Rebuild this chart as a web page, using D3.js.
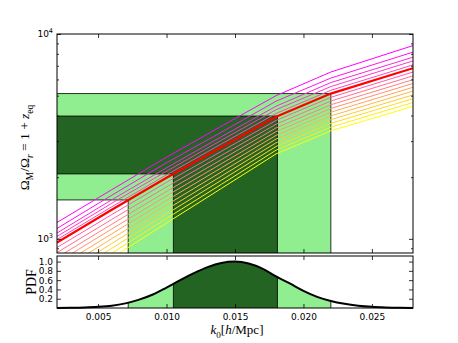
<!DOCTYPE html>
<html>
<head>
<meta charset="utf-8">
<script src="https://cdn.jsdelivr.net/npm/d3@7"></script>
<style>
  body { margin: 0; background: #fff; }
  svg { display: block; }
  .tick text { font-family: "DejaVu Sans", sans-serif; font-size: 9px; fill: #000; }
  .tick line { stroke: #000; stroke-width: 0.8; }
</style>
</head>
<body>
<svg id="chart" width="458" height="343"></svg>
<script>
// k0 grid for the z_eq curves
const kGrid = [0.002, 0.006, 0.010, 0.014, 0.018, 0.022, 0.028];
// fiducial curve (red)
const redLine = [959, 1387, 1986, 2799, 3945, 5117, 6808];
// family of curves, top (magenta) to bottom (yellow)
const familyLines = [
    [1202, 1738, 2503, 3547, 4999, 6522, 8777],
    [1124, 1633, 2352, 3315, 4699, 6095, 8154],
    [1068, 1552, 2223, 3151, 4442, 5794, 7706],
    [1027, 1492, 2138, 3029, 4269, 5538, 7391],
    [992, 1434, 2054, 2906, 4095, 5312, 7066],
    [907, 1314, 1887, 2673, 3784, 4909, 6522],
    [857, 1244, 1794, 2552, 3628, 4707, 6247],
    [810, 1179, 1705, 2436, 3480, 4514, 5985],
    [766, 1117, 1621, 2326, 3338, 4330, 5735],
    [724, 1058, 1541, 2221, 3201, 4152, 5494],
    [684, 1002, 1464, 2120, 3071, 3983, 5263],
    [646, 949, 1392, 2024, 2944, 3819, 5042],
    [611, 899, 1323, 1933, 2824, 3663, 4831],
    [577, 851, 1258, 1845, 2709, 3514, 4628],
    [546, 807, 1195, 1762, 2598, 3370, 4433]
];
// confidence limits: [lo95, lo68, hi68, hi95]
const kLimits = [0.0072, 0.0105, 0.0181, 0.0220];
const zLimits = [1549, 2075, 3977, 5119];
// PDF of k0
const kPdf = [0.002, 0.003, 0.004, 0.005, 0.006, 0.007, 0.008, 0.009, 0.010, 0.011, 0.012, 0.013, 0.014,
              0.015, 0.016, 0.017, 0.018, 0.019, 0.020, 0.021, 0.022, 0.023, 0.024, 0.025, 0.026, 0.027, 0.028];
const pdfVals = [0.002, 0.005, 0.012, 0.025, 0.05, 0.10, 0.18, 0.29, 0.44, 0.60, 0.75, 0.88, 0.97,
                 1.00, 0.96, 0.85, 0.68, 0.53, 0.37, 0.24, 0.15, 0.09, 0.05, 0.025, 0.012, 0.005, 0.002];
const xTicks = [0.005, 0.010, 0.015, 0.020, 0.025];
const pdfTicks = [0.2, 0.4, 0.6, 0.8, 1.0];

const LIGHT = "#90ee90", DARK = "#236423";
const mathFont = "'Liberation Serif', 'DejaVu Serif', serif";

const svg = d3.select("#chart");
const L = 57, R = 413, T1 = 34, B1 = 253, T2 = 256, B2 = 308;

const x = d3.scaleLinear().domain([0.002, 0.028]).range([L, R]);
const y = d3.scaleLog().domain([853, 10000]).range([B1, T1]);
const yP = d3.scaleLinear().domain([0, 1.12]).range([B2, T2]);

const defs = svg.append("defs");
defs.append("clipPath").attr("id", "clipTop")
    .append("rect").attr("x", L).attr("y", T1).attr("width", R - L).attr("height", B1 - T1);

// ---- top panel ----
const topG = svg.append("g");
const plot = topG.append("g").attr("clip-path", "url(#clipTop)");

function bandPath(kLo, kHi, zLo, zHi) {
    const pts = [
        [L, y(zHi)], [x(kHi), y(zHi)], [x(kHi), B1 + 2],
        [x(kLo), B1 + 2], [x(kLo), y(zLo)], [L - 2, y(zLo)], [L - 2, y(zHi)]
    ];
    return d3.line()(pts) + "Z";
}

plot.append("path")
    .attr("d", bandPath(kLimits[0], kLimits[3], zLimits[0], zLimits[3]))
    .attr("fill", LIGHT).attr("stroke", "#000").attr("stroke-width", 0.8);
plot.append("path")
    .attr("d", bandPath(kLimits[1], kLimits[2], zLimits[1], zLimits[2]))
    .attr("fill", DARK).attr("stroke", "#000").attr("stroke-width", 0.8);

const line = d3.line().x((d, i) => x(kGrid[i])).y(d => y(d));
const nFam = familyLines.length;
familyLines.forEach((vals, i) => {
    const t = i / (nFam - 1);
    plot.append("path")
        .attr("d", line(vals))
        .attr("fill", "none")
        .attr("stroke", d3.rgb(255, 255 * t, 255 * (1 - t)))
        .attr("stroke-width", 1);
});
plot.append("path")
    .attr("d", line(redLine))
    .attr("fill", "none").attr("stroke", "#ff0000").attr("stroke-width", 2.2);

// top panel axes (ticks inward, all sides)
function sup(sel) {
    sel.selectAll(".tick text").each(function(d) {
        const t = d3.select(this);
        t.text("10");
        t.append("tspan").attr("dy", -4).attr("font-size", 6.5).text(Math.round(Math.log10(d)));
    });
}
const majorY = [1000, 10000];
const minorY = [900, 2000, 3000, 4000, 5000, 6000, 7000, 8000, 9000];

topG.append("g").attr("transform", `translate(${L},0)`)
    .call(d3.axisLeft(y).tickValues(majorY).tickSize(-4).tickPadding(4))
    .call(sup);
topG.append("g").attr("transform", `translate(${L},0)`)
    .call(d3.axisLeft(y).tickValues(minorY).tickSize(-2).tickFormat(""));
topG.append("g").attr("transform", `translate(${R},0)`)
    .call(d3.axisRight(y).tickValues(majorY).tickSize(-4).tickFormat(""));
topG.append("g").attr("transform", `translate(${R},0)`)
    .call(d3.axisRight(y).tickValues(minorY).tickSize(-2).tickFormat(""));
topG.append("g").attr("transform", `translate(0,${B1})`)
    .call(d3.axisBottom(x).tickValues(xTicks).tickSize(-4).tickFormat(""));
topG.append("g").attr("transform", `translate(0,${T1})`)
    .call(d3.axisTop(x).tickValues(xTicks).tickSize(-4).tickFormat(""));
topG.selectAll(".domain").remove();
topG.append("rect").attr("x", L).attr("y", T1).attr("width", R - L).attr("height", B1 - T1)
    .attr("fill", "none").attr("stroke", "#000").attr("stroke-width", 1);

// ---- lower panel ----
const low = svg.append("g");
[[kLimits[0], kLimits[3], "clipLight"], [kLimits[1], kLimits[2], "clipDark"]].forEach(([a, b, id]) => {
    defs.append("clipPath").attr("id", id)
        .append("rect").attr("x", x(a)).attr("y", T2).attr("width", x(b) - x(a)).attr("height", B2 - T2);
});
const area = d3.area().x((d, i) => x(kPdf[i])).y0(yP(0)).y1(d => yP(d)).curve(d3.curveMonotoneX);
low.append("path").attr("d", area(pdfVals)).attr("fill", LIGHT).attr("clip-path", "url(#clipLight)");
low.append("path").attr("d", area(pdfVals)).attr("fill", DARK).attr("clip-path", "url(#clipDark)");

const pdfAt = d3.scaleLinear().domain(kPdf).range(pdfVals);
kLimits.forEach(k => {
    low.append("line")
        .attr("x1", x(k)).attr("x2", x(k))
        .attr("y1", yP(0)).attr("y2", yP(pdfAt(k)))
        .attr("stroke", "#000").attr("stroke-width", 0.8);
});
low.append("path")
    .attr("d", d3.line().x((d, i) => x(kPdf[i])).y(d => yP(d)).curve(d3.curveMonotoneX)(pdfVals))
    .attr("fill", "none").attr("stroke", "#000").attr("stroke-width", 2);

low.append("g").attr("transform", `translate(0,${B2})`)
    .call(d3.axisBottom(x).tickValues(xTicks).tickSize(-4).tickPadding(6).tickFormat(d3.format(".3f")));
low.append("g").attr("transform", `translate(0,${T2})`)
    .call(d3.axisTop(x).tickValues(xTicks).tickSize(-4).tickFormat(""));
low.append("g").attr("transform", `translate(${L},0)`)
    .call(d3.axisLeft(yP).tickValues(pdfTicks).tickSize(-4).tickPadding(4).tickFormat(d3.format(".1f")));
low.append("g").attr("transform", `translate(${R},0)`)
    .call(d3.axisRight(yP).tickValues(pdfTicks).tickSize(-4).tickFormat(""));
low.selectAll(".domain").remove();
low.append("rect").attr("x", L).attr("y", T2).attr("width", R - L).attr("height", B2 - T2)
    .attr("fill", "none").attr("stroke", "#000").attr("stroke-width", 1);

// ---- labels ----
function mathText(sel, parts, size) {
    let shift = 0;
    parts.forEach(p => {
        const want = p.sub ? size * 0.3 : 0;
        sel.append("tspan")
            .attr("dy", want - shift)
            .attr("font-size", p.sub ? size * 0.7 : size)
            .attr("font-style", p.it ? "italic" : "normal")
            .text(p.t);
        shift = want;
    });
}

const xl = svg.append("text")
    .attr("x", (L + R) / 2 + 2).attr("y", 334)
    .attr("text-anchor", "middle").attr("font-family", mathFont).attr("font-size", 13);
mathText(xl, [
    { t: "k", it: true }, { t: "0", sub: true }, { t: "[" }, { t: "h", it: true }, { t: "/Mpc]" }
], 13);

const yl = svg.append("text")
    .attr("transform", `translate(29,${(T1 + B1) / 2 + 4}) rotate(-90)`)
    .attr("text-anchor", "middle").attr("font-family", mathFont).attr("font-size", 13.5);
mathText(yl, [
    { t: "Ω" }, { t: "M", sub: true }, { t: "/Ω" }, { t: "r", it: true, sub: true },
    { t: " = 1 + " }, { t: "z", it: true }, { t: "eq", sub: true }
], 13.5);

svg.append("text")
    .attr("transform", `translate(36,${(T2 + B2) / 2}) rotate(-90)`)
    .attr("text-anchor", "middle").attr("font-family", mathFont).attr("font-size", 14)
    .text("PDF");
</script>
</body>
</html>
